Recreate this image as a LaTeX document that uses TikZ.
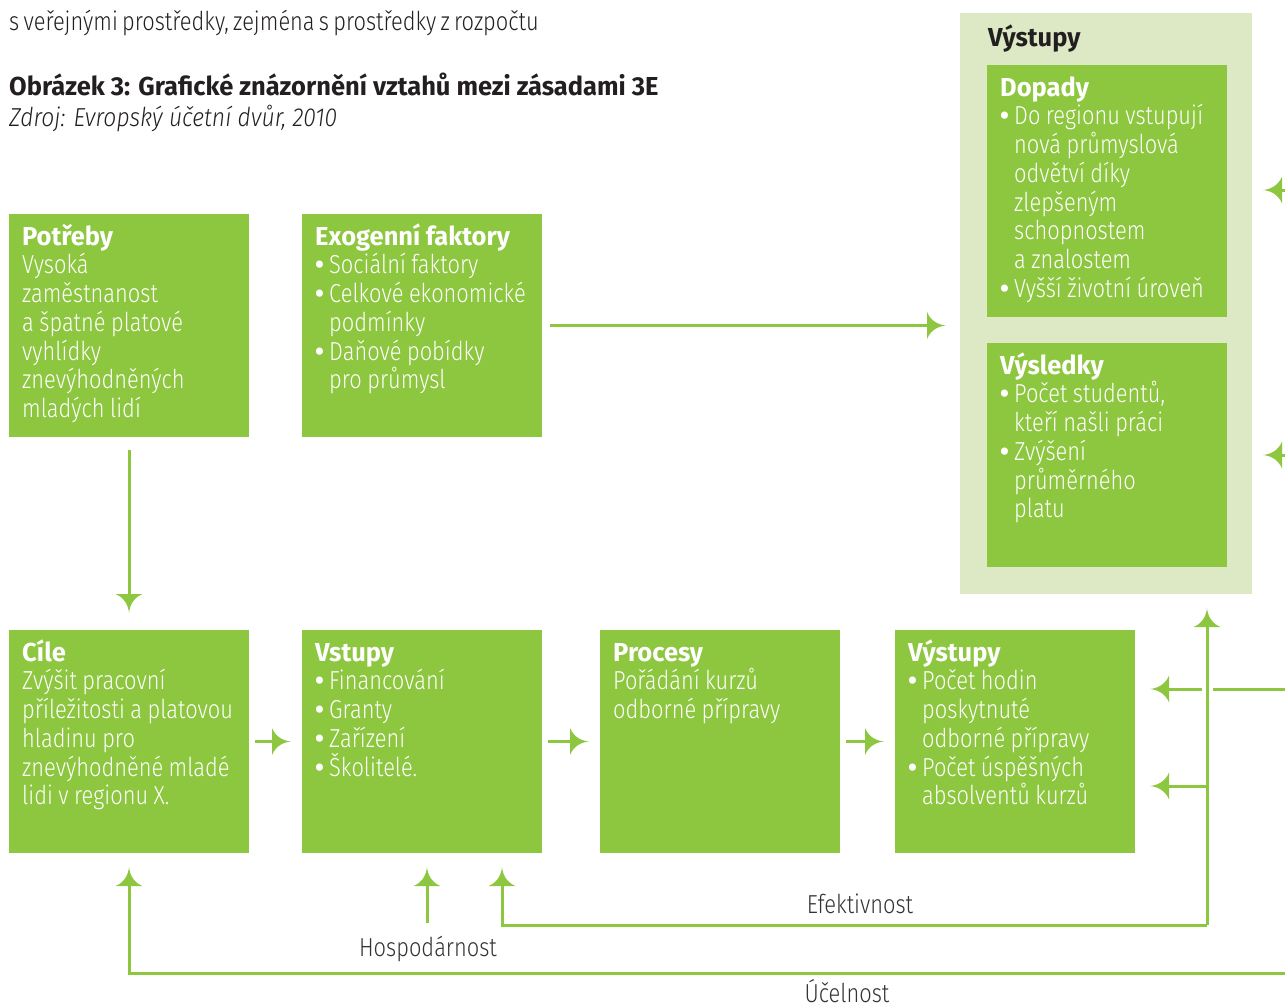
\documentclass[tikz,border=0pt]{standalone}
\usepackage{fontspec}
\IfFontExistsTF{Fira Sans Light}{%
  \setmainfont{Fira Sans Light}[
    BoldFont={Fira Sans Bold},
    ItalicFont={Fira Sans Light Italic},
    UprightFeatures={FakeStretch=0.84, WordSpace=0.7},
    ItalicFeatures={FakeStretch=0.88},
    BoldFeatures={FakeStretch=0.98}]
}{%
  \setmainfont{Fira Sans}[
    UprightFeatures={FakeStretch=0.81, WordSpace=0.7},
    ItalicFeatures={FakeStretch=0.86},
    BoldFeatures={FakeStretch=0.98}]
}
\setlength\parindent{0pt}
\setlength\parskip{0pt}

\definecolor{leaf}{HTML}{8DC63F}
\definecolor{pale}{HTML}{DCE9C4}
\definecolor{ink}{HTML}{231F20}
\definecolor{note}{HTML}{333333}

\newcommand\txtsize{\fontsize{26pt}{28.7pt}\selectfont}
\newcommand\itm{\par\hangindent=14pt\hangafter=1 \makebox[14pt][l]{\textbf{•}}}
\newcommand\firstline{\rule{0pt}{24pt}}

% leaf-shaped arrow head with concave flanks
\pgfdeclarearrow{
  name = Leaf,
  setup code = {
    \pgfarrowssettipend{0pt}
    \pgfarrowssetbackend{-19pt}
    \pgfarrowssetvisualbackend{-19pt}
    \pgfarrowssetlineend{-9pt}
    \pgfarrowshullpoint{0pt}{0pt}
    \pgfarrowshullpoint{-19pt}{13.5pt}
    \pgfarrowshullpoint{-19pt}{-13.5pt}
  },
  drawing code = {
    \pgfsetfillcolor{leaf}
    \pgfpathmoveto{\pgfqpoint{0pt}{0pt}}
    \pgfpathcurveto{\pgfqpoint{-6pt}{0.5pt}}{\pgfqpoint{-15pt}{3.5pt}}{\pgfqpoint{-19pt}{13.5pt}}
    \pgfpathlineto{\pgfqpoint{-19pt}{-13.5pt}}
    \pgfpathcurveto{\pgfqpoint{-15pt}{-3.5pt}}{\pgfqpoint{-6pt}{-0.5pt}}{\pgfqpoint{0pt}{0pt}}
    \pgfpathclose
    \pgfusepathqfill
  }
}

\tikzset{
  box/.style={fill=leaf, anchor=north west, minimum width=240, minimum height=223,
    inner sep=0, outer sep=0},
  body/.style={anchor=north west, inner sep=0, text width=236pt,
    execute at begin node={\raggedright\spaceskip=5.5pt plus 1pt minus 1pt
      \xspaceskip=6pt\relax},
    text=white, font=\txtsize},
  conn/.style={draw=leaf, line width=3pt, -Leaf},
  lbl/.style={anchor=base, inner sep=0, text=note, font=\txtsize},
  headtext/.style={anchor=base west, inner sep=0, text=ink},
}

\begin{document}
\begin{tikzpicture}[x=1pt, y=-1pt]
\useasboundingbox (0,0) rectangle (1285,1007);

% heading lines
\node[headtext, font=\txtsize] (intro) at (9,30)
  {s veřejnými prostředky, zejména s prostředky z rozpočtu};
\node[headtext, font=\txtsize\bfseries] (title) at (9,95)
  {Obrázek 3: Grafické znázornění vztahů mezi zásadami 3E};
\node[headtext, font=\txtsize\itshape] (source) at (9,126)
  {Zdroj: Evropský účetní dvůr, 2010};

% outcome panel
\node[fill=pale, anchor=north west, minimum width=292, minimum height=581,
  inner sep=0, outer sep=0] (panel) at (960,13) {};
\node[headtext, font=\txtsize\bfseries] (panelT) at (988,46) {Výstupy};

% boxes
\node[box, minimum height=252] (dopady) at (987,65) {};
\node[box, minimum height=224] (vysledky) at (987,343) {};
\node[box] (potreby) at (9,214) {};
\node[box] (exo) at (302,214) {};
\node[box] (cile) at (9,630) {};
\node[box] (vstupy) at (302,630) {};
\node[box] (procesy) at (600,630) {};
\node[box] (vystupy) at (895,630) {};

% box texts
\node[body] (dopadyT) at ([shift={(13,7)}]dopady.north west)
  {\firstline\textbf{Dopady}\itm Do regionu vstupují\newline nová průmyslová\newline odvětví díky\newline zlepšeným\newline schopnostem\newline a znalostem\itm Vyšší životní úroveň\par};
\node[body] (vysledkyT) at ([shift={(13,7)}]vysledky.north west)
  {\firstline\textbf{Výsledky}\itm Počet studentů,\newline kteří našli práci\itm Zvýšení\newline průměrného\newline platu\par};
\node[body] (potrebyT) at ([shift={(13,7)}]potreby.north west)
  {\firstline\textbf{Potřeby}\par Vysoká\par zaměstnanost\par a špatné platové\par vyhlídky\par znevýhodněných\par mladých lidí\par};
\node[body] (exoT) at ([shift={(13,7)}]exo.north west)
  {\firstline\textbf{Exogenní faktory}\itm Sociální faktory\itm Celkové ekonomické\newline podmínky\itm Daňové pobídky\newline pro průmysl\par};
\node[body] (cileT) at ([shift={(13,7)}]cile.north west)
  {\firstline\textbf{Cíle}\par Zvýšit pracovní\par příležitosti a platovou\par hladinu pro\par znevýhodněné mladé\par lidi v regionu X.\par};
\node[body] (vstupyT) at ([shift={(13,7)}]vstupy.north west)
  {\firstline\textbf{Vstupy}\itm Financování\itm Granty\itm Zařízení\itm Školitelé.\par};
\node[body] (procesyT) at ([shift={(13,7)}]procesy.north west)
  {\firstline\textbf{Procesy}\par Pořádání kurzů\par odborné přípravy\par};
\node[body] (vystupyT) at ([shift={(13,7)}]vystupy.north west)
  {\firstline\textbf{Výstupy}\itm Počet hodin\newline poskytnuté\newline odborné přípravy\itm Počet úspěšných\newline absolventů kurzů\par};

% loose ends of the connectors
\coordinate (inA) at (1300,190);
\coordinate (inB) at (1300,455);
\coordinate (outA) at (1300,689);
\coordinate (jB) at (1207,786);
\coordinate (effR) at (1207,925);
\coordinate (ucR) at (1300,973);
\coordinate (hospB) at (427,923);

% main flow
\draw[conn, shorten <=13pt, shorten >=17pt] (potreby.south) -- (cile.north);
\draw[conn, shorten <=8pt, shorten >=14pt] (exo.east) -- (exo.east -| panel.west);
\draw[conn, shorten <=6pt, shorten >=11pt] (cile.east) -- (vstupy.west);
\draw[conn, shorten <=6pt, shorten >=11pt] (vstupy.east) -- (procesy.west);
\draw[conn, shorten <=6pt, shorten >=11pt] (procesy.east) -- (vystupy.west);

% arrows entering the panel from the right
\draw[conn, shorten >=11pt] (inA) -- (inA -| panel.east);
\draw[conn, shorten >=11pt] (inB) -- (inB -| panel.east);

% arrows entering the outputs box
\draw[conn, shorten >=15pt] (outA) -- (outA -| vystupy.east);
\draw[conn, shorten >=15pt] (jB) -- (jB -| vystupy.east);
\draw[white, line width=11pt] (1207,683) -- (1207,695);

% evaluation loops
\draw[conn, shorten >=14pt] (effR) -- (effR |- panel.south);
\draw[conn, shorten >=14pt] (effR) -| ([xshift=80pt]vstupy.south);
\draw[conn, shorten >=14pt] (hospB) -- (hospB |- vstupy.south);
\draw[conn, shorten >=14pt] (ucR) -| (cile.south);

% loop labels
\node[lbl] (efekt) at (860,913) {Efektivnost};
\node[lbl] (hosp) at (428,956) {Hospodárnost};
\node[lbl] (ucel) at (847,1002) {Účelnost};
\end{tikzpicture}
\end{document}
